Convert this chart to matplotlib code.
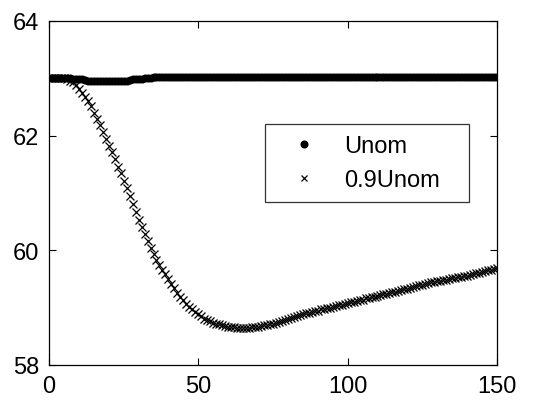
import numpy as np
import matplotlib
matplotlib.use("Agg")
import matplotlib.pyplot as plt

plt.rcParams['font.family'] = ['Liberation Sans', 'DejaVu Sans']

# time axis, one sample per unit
t = np.arange(0, 151)

unom = [
    63.01, 63.01, 63.01, 63.01, 63.00, 63.00, 63.00, 63.00, 62.99, 62.99,
    62.98, 62.98, 62.97, 62.96, 62.96, 62.95, 62.95, 62.95, 62.95, 62.95,
    62.95, 62.95, 62.95, 62.95, 62.95, 62.96, 62.96, 62.97, 62.98, 62.98,
    62.98, 62.99, 63.00, 63.01, 63.01, 63.02, 63.02, 63.02, 63.02, 63.02,
    63.02, 63.02, 63.02, 63.02, 63.02, 63.02, 63.02, 63.02, 63.02, 63.02,
    63.02, 63.02, 63.02, 63.02, 63.02, 63.02, 63.02, 63.02, 63.02, 63.02,
    63.02, 63.02, 63.02, 63.02, 63.02, 63.02, 63.02, 63.02, 63.02, 63.02,
    63.02, 63.02, 63.02, 63.02, 63.02, 63.02, 63.02, 63.02, 63.02, 63.02,
    63.02, 63.02, 63.02, 63.02, 63.02, 63.02, 63.02, 63.02, 63.02, 63.02,
    63.02, 63.02, 63.02, 63.02, 63.02, 63.02, 63.02, 63.02, 63.02, 63.02,
    63.02, 63.02, 63.02, 63.02, 63.02, 63.02, 63.02, 63.02, 63.02, 63.02,
    63.02, 63.02, 63.02, 63.02, 63.02, 63.02, 63.02, 63.02, 63.02, 63.02,
    63.02, 63.02, 63.02, 63.02, 63.02, 63.02, 63.02, 63.02, 63.02, 63.02,
    63.02, 63.02, 63.02, 63.02, 63.02, 63.02, 63.02, 63.02, 63.02, 63.02,
    63.02, 63.02, 63.02, 63.02, 63.02, 63.02, 63.02, 63.02, 63.02, 63.02,
    63.02,
]

unom_09 = [
    63.01, 63.01, 63.01, 63.01, 63.01, 63.00, 62.99, 62.96, 62.93, 62.88,
    62.82, 62.75, 62.68, 62.61, 62.51, 62.40, 62.29, 62.18, 62.06, 61.94,
    61.82, 61.71, 61.59, 61.46, 61.34, 61.21, 61.08, 60.94, 60.81, 60.67,
    60.53, 60.40, 60.28, 60.16, 60.04, 59.93, 59.83, 59.74, 59.66, 59.58,
    59.50, 59.42, 59.34, 59.26, 59.19, 59.13, 59.07, 59.02, 58.98, 58.93,
    58.89, 58.85, 58.81, 58.78, 58.76, 58.74, 58.72, 58.71, 58.69, 58.68,
    58.67, 58.66, 58.66, 58.65, 58.65, 58.65, 58.65, 58.65, 58.66, 58.66,
    58.67, 58.68, 58.69, 58.70, 58.71, 58.72, 58.73, 58.75, 58.76, 58.78,
    58.80, 58.82, 58.84, 58.85, 58.87, 58.89, 58.90, 58.91, 58.93, 58.94,
    58.95, 58.97, 58.98, 58.99, 59.00, 59.02, 59.03, 59.04, 59.05, 59.07,
    59.08, 59.09, 59.10, 59.12, 59.13, 59.14, 59.16, 59.17, 59.18, 59.19,
    59.21, 59.22, 59.23, 59.24, 59.26, 59.27, 59.28, 59.29, 59.31, 59.32,
    59.33, 59.35, 59.36, 59.37, 59.39, 59.40, 59.41, 59.43, 59.44, 59.45,
    59.46, 59.47, 59.48, 59.49, 59.50, 59.51, 59.52, 59.53, 59.54, 59.55,
    59.56, 59.57, 59.58, 59.60, 59.61, 59.62, 59.64, 59.65, 59.66, 59.68,
    59.69,
]

series_names = ['Unom', '0.9Unom']
x_ticks = [0, 50, 100, 150]
y_ticks = [58, 60, 62, 64]

fig = plt.figure(figsize=(5.43, 4.02), dpi=100)
ax = fig.add_axes([0.0902, 0.0896, 0.825, 0.8557])

ax.plot(t, unom_09, linestyle='none', marker='x', ms=6, mew=0.9,
        color='black', label=series_names[1], zorder=2)
ax.plot(t, unom, linestyle='none', marker='o', ms=5.8, mew=0,
        color='black', label=series_names[0], zorder=3)

ax.set_xlim(0, 150)
ax.set_ylim(58, 64)
ax.set_xticks(x_ticks)
ax.set_yticks(y_ticks)
ax.tick_params(direction='in', length=5, width=0.8, labelsize=17,
               top=True, right=True, pad=7)
for sp in ax.spines.values():
    sp.set_linewidth(0.9)

# legend box stretched to the same width as in the reference
handles, labels = ax.get_legend_handles_labels()
leg = ax.legend(handles[::-1], labels[::-1], loc='upper left',
                bbox_to_anchor=(0.482, 0.4826, 0.4555, 0.218), mode='expand',
                fontsize=17, frameon=True, fancybox=False, edgecolor='black',
                borderpad=0.47, handletextpad=0.55, labelspacing=0.52,
                handlelength=2.33, borderaxespad=0)
leg.get_frame().set_linewidth(0.9)
leg.legend_handles[1].set_markersize(5)

fig.savefig('out.png', dpi=100)
